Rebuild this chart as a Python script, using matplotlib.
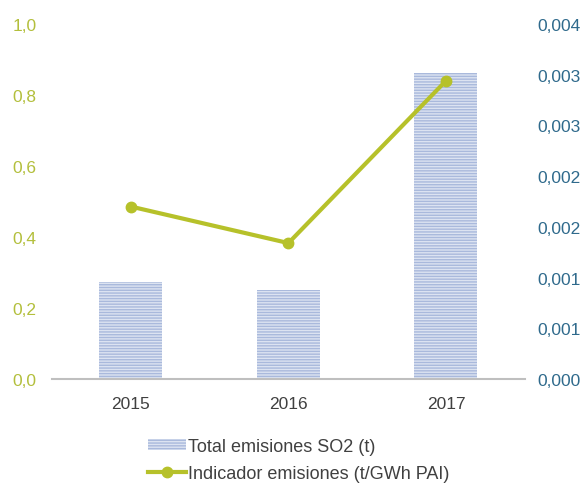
import matplotlib
matplotlib.use("Agg")
import matplotlib.pyplot as plt

# data
years = ["2015", "2016", "2017"]
total_so2 = [0.273, 0.251, 0.862]          # left axis (t)
indicador = [0.00170, 0.00134, 0.00294]    # right axis (t/GWh PAI)

left_ticks = [0.0, 0.2, 0.4, 0.6, 0.8, 1.0]
left_labels = ["0,0", "0,2", "0,4", "0,6", "0,8", "1,0"]
right_ticks = [0.0, 0.0005, 0.001, 0.0015, 0.002, 0.0025, 0.003, 0.0035]
right_labels = ["0,000", "0,001", "0,001", "0,002", "0,002", "0,003", "0,003", "0,004"]

plt.rcParams["font.family"] = ["Liberation Sans", "DejaVu Sans"]
plt.rcParams["hatch.linewidth"] = 1.0

green = "#b6c12a"
green_txt = "#b3bf3c"
blue_txt = "#2f6a8c"
grey_txt = "#404040"
fs = 12.5

fig = plt.figure(figsize=(5.85, 4.85), dpi=100)
ax = fig.add_axes([0.089, 0.2165, 0.808, 0.732])
ax2 = ax.twinx()

x = range(len(years))
bars = ax.bar(x, total_so2, width=0.4, color="#dce3f1", edgecolor="#a9b9dc",
              hatch="------", linewidth=0, label="Total emisiones SO2 (t)")
line, = ax2.plot(x, indicador, color=green, linewidth=3, marker="o",
                 markersize=7.5, label="Indicador emisiones (t/GWh PAI)")

ax.set_xlim(-0.5, 2.5)
ax.set_ylim(0, 1.0)
ax2.set_ylim(0, 0.0035)

ax.set_xticks(list(x))
ax.set_xticklabels(years, fontsize=fs, color=grey_txt)
ax.set_yticks(left_ticks)
ax.set_yticklabels(left_labels, fontsize=fs, color=green_txt)
ax2.set_yticks(right_ticks)
ax2.set_yticklabels(right_labels, fontsize=fs, color=blue_txt)

ax.tick_params(axis="y", length=0, pad=11)
ax.tick_params(axis="x", length=0, pad=12)
ax2.tick_params(axis="y", length=0, pad=9)

for a in (ax, ax2):
    for side in ("top", "left", "right", "bottom"):
        a.spines[side].set_visible(False)
ax.spines["bottom"].set_visible(True)
ax.spines["bottom"].set_color("#bfbfbf")
ax.spines["bottom"].set_linewidth(1.5)

fig.legend([bars, line], [bars.get_label(), line.get_label()],
           loc="upper left", bbox_to_anchor=(0.24, 0.11), frameon=False,
           fontsize=13, handlelength=2.1, handleheight=0.5, handletextpad=0.12,
           labelspacing=0.55, labelcolor=grey_txt, borderaxespad=0)

fig.savefig("out.png", dpi=100)
